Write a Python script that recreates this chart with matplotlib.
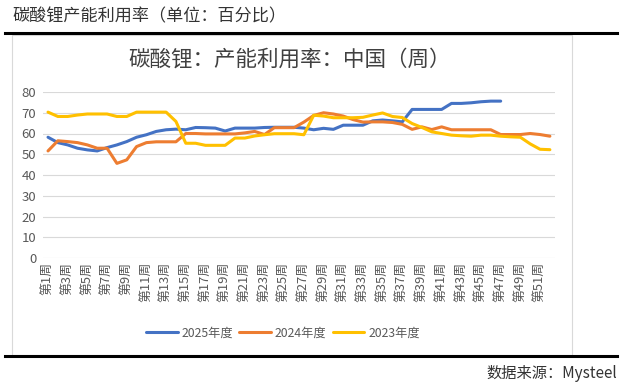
import matplotlib
matplotlib.use("Agg")
import matplotlib.pyplot as plt
from matplotlib.lines import Line2D
from matplotlib.patches import Rectangle

plt.rcParams['font.family'] = ['Noto Sans CJK SC', 'DejaVu Sans']

weeks = list(range(1, 53))
tick_weeks = list(range(1, 52, 2))
tick_labels = [f"第{w}周" for w in tick_weeks]

s2025 = [58.2, 55.6, 54.5, 52.9, 52.1, 51.6, 53.2, 54.5, 56.1, 58.2,
         59.4, 61.0, 61.8, 62.1, 61.8, 62.9, 62.8, 62.6, 61.2, 62.6,
         62.6, 62.6, 62.9, 63.0, 63.0, 63.0, 62.6, 61.8, 62.5, 62.0,
         64.0, 64.0, 64.0, 66.1, 66.5, 66.1, 65.6, 71.6, 71.6, 71.6,
         71.6, 74.5, 74.5, 74.8, 75.3, 75.6, 75.6]
s2024 = [51.6, 56.5, 56.1, 55.6, 54.5, 52.9, 52.9, 45.6, 47.3, 53.7,
         55.6, 56.0, 56.0, 56.0, 60.0, 60.0, 59.8, 59.8, 59.8, 59.8,
         60.3, 61.0, 59.5, 62.8, 62.8, 62.8, 65.5, 68.7, 70.0, 69.4,
         68.4, 66.7, 65.5, 65.6, 65.6, 65.3, 64.4, 62.0, 63.2, 61.9,
         63.2, 61.8, 61.8, 61.8, 61.8, 61.8, 59.5, 59.5, 59.5, 60.0,
         59.5, 58.7]
s2023 = [70.3, 68.2, 68.2, 68.9, 69.4, 69.4, 69.4, 68.2, 68.2, 70.3,
         70.3, 70.3, 70.3, 65.8, 55.3, 55.3, 54.3, 54.3, 54.3, 57.8,
         57.8, 58.8, 59.4, 59.9, 59.9, 59.9, 59.4, 68.8, 68.4, 67.6,
         67.6, 67.6, 67.8, 68.9, 69.9, 68.2, 67.7, 64.8, 62.9, 60.8,
         60.0, 59.2, 58.9, 58.7, 59.2, 59.2, 58.7, 58.4, 58.2, 55.0,
         52.4, 52.2]

series = [("2025年度", s2025, "#4472C4"),
          ("2024年度", s2024, "#ED7D31"),
          ("2023年度", s2023, "#FFC000")]

W, H = 625, 388
fig = plt.figure(figsize=(W / 100, H / 100), dpi=100)
fig.patch.set_facecolor("white")

def fx(x):
    return x / W

def fy(y):
    return 1 - y / H

# page decorations
fig.text(fx(12), fy(16), "碳酸锂产能利用率（单位：百分比）", fontsize=12.3,
         color="#333333", ha="left", va="center")
fig.add_artist(Line2D([fx(5), fx(617)], [fy(33), fy(33)], color="black", lw=2.2))
fig.add_artist(Line2D([fx(5), fx(617)], [fy(356), fy(356)], color="black", lw=2.2))
fig.add_artist(Rectangle((fx(12), fy(355)), fx(572) - fx(12), fy(35) - fy(355),
                         fill=False, edgecolor="#d9d9d9", lw=0.8))
fig.text(fx(290), fy(60), "碳酸锂：产能利用率：中国（周）", fontsize=15.5,
         color="#404040", ha="center", va="center")
fig.text(fx(617), fy(373), "数据来源：Mysteel", fontsize=11,
         color="#333333", ha="right", va="center")

left, right = 43.1, 554.8
top, bottom = 92, 258
ax = fig.add_axes([fx(left), fy(bottom), fx(right) - fx(left), fy(top) - fy(bottom)])
ax.set_facecolor("none")

handles = []
for name, vals, col in series:
    h, = ax.plot(weeks[:len(vals)], vals, color=col, lw=2.2, label=name,
                 solid_joinstyle="round", solid_capstyle="round")
    handles.append(h)

ax.set_xlim(0.5, 52.5)
ax.set_ylim(0, 80)
ax.set_yticks(range(0, 81, 10))
ax.yaxis.grid(True, color="#d9d9d9", lw=0.8)
ax.set_axisbelow(True)
for sp in ax.spines.values():
    sp.set_visible(False)
ax.tick_params(axis="y", length=0, pad=5, labelsize=9.5, labelcolor="#595959")
ax.set_xticks(tick_weeks)
ax.set_xticklabels(tick_labels, rotation=90, fontsize=9.3, color="#595959")
ax.tick_params(axis="x", length=0, pad=3)

fig.legend(handles=handles, loc="center", bbox_to_anchor=(fx(283), fy(333)),
           ncol=3, frameon=False, fontsize=8.8, handlelength=2.6, handletextpad=0.3,
           columnspacing=0.5, labelcolor="#595959")

fig.savefig("out.png", dpi=100)
